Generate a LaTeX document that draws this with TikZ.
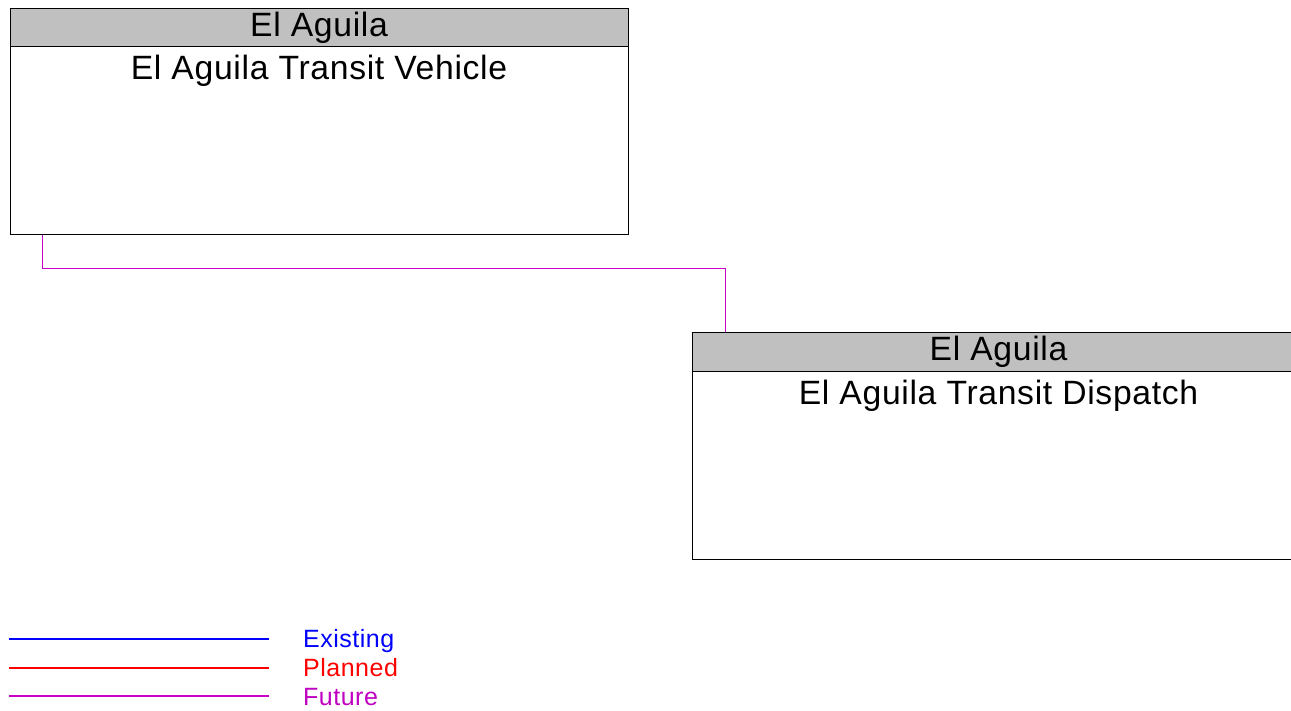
\documentclass[tikz,border=0pt]{standalone}
\usepackage{fontspec}
\setmainfont{Liberation Sans}[LetterSpace=2]
\definecolor{hdrgray}{RGB}{192,192,192}
\definecolor{legblue}{RGB}{0,0,255}
\definecolor{legred}{RGB}{255,0,0}
\definecolor{legmag}{RGB}{200,0,200}
\definecolor{futtext}{RGB}{192,0,192}
\begin{document}
\begin{tikzpicture}[x=1pt,y=-1pt,
  boxbody/.style={draw=black,line width=1pt,fill=white,rectangle,inner sep=0pt,anchor=north west,minimum width=#1,minimum height=226.5pt},
  boxhead/.style={draw=black,line width=1pt,fill=hdrgray,rectangle,inner sep=0pt,anchor=north west,minimum width=#1,minimum height=38.5pt},
  openbody/.style={fill=white,rectangle,inner sep=0pt,anchor=north west,minimum width=#1,minimum height=226.5pt},
  openhead/.style={fill=hdrgray,rectangle,inner sep=0pt,anchor=north west,minimum width=#1,minimum height=38.5pt},
  outline/.style={draw=black,line width=1pt},
  bigtext/.style={inner sep=0pt,anchor=base,font=\fontsize{33.7}{38}\selectfont},
  legtext/.style={inner sep=0pt,anchor=base west,font=\fontsize{25}{29}\selectfont},
  legline/.style={fill=#1,draw=none,rectangle,inner sep=0pt,anchor=west,minimum width=260pt,minimum height=1.6pt},
  conn/.style={line width=1pt},
]
\useasboundingbox (0,0) rectangle (1291,711);
% Box 1
\node[boxbody=618pt] (v) at (9.5,8) {};
\node[boxhead=618pt] (vh) at (9.5,8) {};
\node[bigtext] (vhT) at (319,37) {El Aguila};
\node[bigtext] (vT) at (319,80) {El Aguila Transit Vehicle};
% Box 2 (cut off at the right edge)
\node[openbody=599pt] (d) at (692.5,332.5) {};
\node[openhead=599pt] (dh) at (692.5,332.5) {};
\draw[outline] (d.north east) -- (d.north west) -- (d.south west) -- (d.south east);
\draw[outline] (dh.south west) -- (dh.south east);
\node[bigtext] (dhT) at (998.5,361) {El Aguila};
\node[bigtext] (dT) at (998.5,404) {El Aguila Transit Dispatch};
% Connector
\coordinate (vout) at ([xshift=32.5pt]v.south west);
\coordinate (din) at ([xshift=32.5pt]d.north west);
\draw[conn,color=legmag] (vout) -- ++(0,33) -| (din);
% Legend
\node[legline=legblue] (le0) at (9,639) {};
\node[legline=legred] (lp0) at (9,667.8) {};
\node[legline=legmag] (lf0) at (9,696) {};
\node[legtext,text=legblue] (le) at (303,647) {Existing};
\node[legtext,text=legred] (lp) at (303,676) {Planned};
\node[legtext,text=futtext] (lf) at (303,705) {Future};
\end{tikzpicture}
\end{document}
